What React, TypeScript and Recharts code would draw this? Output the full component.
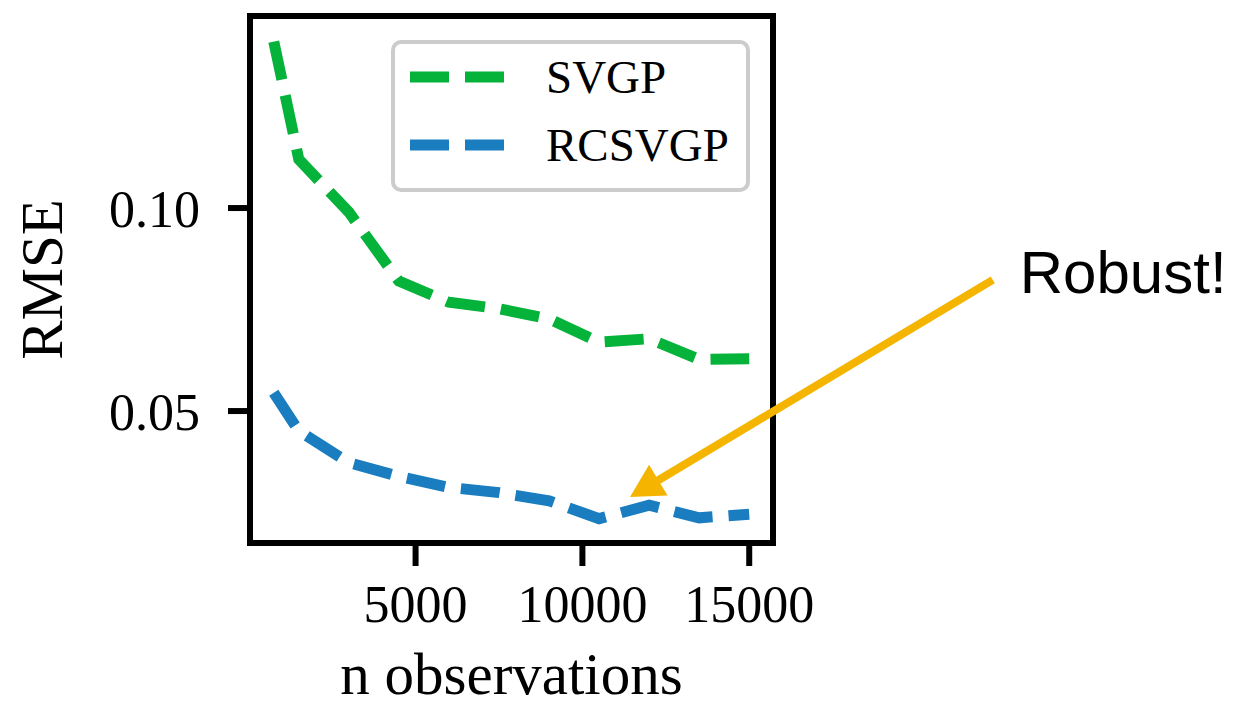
import {
  LineChart,
  Line,
  XAxis,
  YAxis,
  Legend,
  Label,
  ReferenceArea,
  ReferenceLine,
} from 'recharts'

/* ================================
   Data
================================ */
const N_OBS = [750, 1500, 3000, 4500, 6000, 7500, 9000, 10500, 12000, 13500, 15000]
const SVGP_RMSE = [0.141, 0.112, 0.099, 0.082, 0.0768, 0.0752, 0.0727, 0.067, 0.0678, 0.0627, 0.0629]
const RCSVGP_RMSE = [0.0545, 0.0451, 0.0373, 0.0339, 0.0312, 0.0299, 0.0279, 0.0235, 0.0268, 0.0237, 0.0246]

const SERIES_ORDER = ['SVGP', 'RCSVGP']
const X_TICKS = [5000, 10000, 15000]
const Y_TICKS = [0.05, 0.1]
const X_DOMAIN = [37.5, 15712.5]
const Y_DOMAIN = [0.0175, 0.1473]

// annotation arrow: tail (outside the axes) -> tip
const ARROW = [
  { x: 22300, y: 0.0823 },
  { x: 11427, y: 0.0288 },
]
const ARROW_TEXT = 'Robust!'

const COLORS = {
  svgp: '#05b23a',
  rcsvgp: '#1a7dc0',
  arrow: '#f4b400',
  frame: '#000000',
  legendBorder: '#cccccc',
}

const SERIF = '"Liberation Serif", "Times New Roman", serif'
const SANS = '"Liberation Sans", Arial, sans-serif'

const DASH = '39 16'

const data = N_OBS.map((n, i) => ({
  n,
  svgp: SVGP_RMSE[i],
  rcsvgp: RCSVGP_RMSE[i],
}))

function LegendBox(props: any) {
  const items = [...(props.payload || [])].sort(
    (a: any, b: any) => SERIES_ORDER.indexOf(a.value) - SERIES_ORDER.indexOf(b.value),
  )
  return (
    <svg width={359} height={152}>
      <rect x={2} y={2} width={355} height={148} rx={8} fill="#ffffff" stroke={COLORS.legendBorder} strokeWidth={4} />
      {items.map((it: any, i: number) => {
        const cy = 37 + i * 68
        return (
          <g key={it.value}>
            <line x1={19} x2={114} y1={cy} y2={cy} stroke={it.color} strokeWidth={11} strokeDasharray={DASH} />
            <text x={155} y={cy + 16} fontFamily={SERIF} fontSize={47} fill="#000">
              {it.value}
            </text>
          </g>
        )
      })}
    </svg>
  )
}

function ArrowShape(props: any) {
  const { x1, y1, x2, y2 } = props
  if ([x1, y1, x2, y2].some((v) => typeof v !== 'number')) return null
  const dx = x2 - x1
  const dy = y2 - y1
  const len = Math.sqrt(dx * dx + dy * dy)
  const ux = dx / len
  const uy = dy / len
  const headLen = 33
  const halfW = 18
  const bx = x2 - ux * headLen
  const by = y2 - uy * headLen
  const pts = [
    [x2, y2],
    [bx - uy * halfW, by + ux * halfW],
    [bx + uy * halfW, by - ux * halfW],
  ]
    .map((p) => p.join(','))
    .join(' ')
  return (
    <g>
      <line x1={x1} y1={y1} x2={bx + ux * 2} y2={by + uy * 2} stroke={COLORS.arrow} strokeWidth={8} />
      <polygon points={pts} fill={COLORS.arrow} />
      <text x={x1 + 27} y={y1 + 13} fontFamily={SANS} fontSize={60} fill="#000">
        {ARROW_TEXT}
      </text>
    </g>
  )
}

export default function App() {
  return (
    <div style={{ position: 'absolute', left: 0, top: 0, width: 1237, height: 707, background: '#fff' }}>
      <LineChart
        width={1237}
        height={707}
        data={data}
        margin={{ top: 16, right: 464, left: 0, bottom: 0 }}
      >
        <XAxis
          dataKey="n"
          type="number"
          domain={X_DOMAIN}
          ticks={X_TICKS}
          height={164}
          axisLine={false}
          tickSize={23}
          tickMargin={19}
          tickLine={{ stroke: COLORS.frame, strokeWidth: 6 }}
          tick={{ fontSize: 52, fontFamily: SERIF, fill: '#000' }}
        >
          <Label
            content={(p: any) => {
              const vb = p.viewBox
              return (
                <text x={vb.x + vb.width / 2} y={694} textAnchor="middle" fontFamily={SERIF} fontSize={59} fill="#000">
                  n observations
                </text>
              )
            }}
          />
        </XAxis>
        <YAxis
          type="number"
          domain={Y_DOMAIN}
          ticks={Y_TICKS}
          width={250}
          axisLine={false}
          tickSize={22}
          tickMargin={28}
          tickFormatter={(v) => Number(v).toFixed(2)}
          tickLine={{ stroke: COLORS.frame, strokeWidth: 6 }}
          tick={{ fontSize: 52, fontFamily: SERIF, fill: '#000' }}
        >
          <Label
            content={(p: any) => {
              const vb = p.viewBox
              const cx = 42
              const cy = vb.y + vb.height / 2
              return (
                <text
                  x={cx}
                  y={cy}
                  dy="0.34em"
                  transform={`rotate(-90 ${cx} ${cy})`}
                  textAnchor="middle"
                  fontFamily={SERIF}
                  fontSize={59}
                  fill="#000"
                >
                  RMSE
                </text>
              )
            }}
          />
        </YAxis>

        <Line
          dataKey="svgp"
          name="SVGP"
          stroke={COLORS.svgp}
          strokeWidth={11}
          strokeDasharray={DASH}
          dot={false}
          isAnimationActive={false}
        />
        <Line
          dataKey="rcsvgp"
          name="RCSVGP"
          stroke={COLORS.rcsvgp}
          strokeWidth={11}
          strokeDasharray={DASH}
          dot={false}
          isAnimationActive={false}
        />

        <ReferenceArea
          x1={X_DOMAIN[0]}
          x2={X_DOMAIN[1]}
          y1={Y_DOMAIN[0]}
          y2={Y_DOMAIN[1]}
          fill="none"
          stroke={COLORS.frame}
          strokeWidth={6}
          fillOpacity={0}
        />

        <ReferenceLine
          segment={ARROW}
          ifOverflow="visible"
          shape={ArrowShape}
        />

        <Legend
          layout="vertical"
          align="center"
          verticalAlign="middle"
          content={LegendBox}
          wrapperStyle={{ position: 'absolute', left: 391, top: 40, width: 359, height: 152 }}
        />
      </LineChart>
    </div>
  )
}
